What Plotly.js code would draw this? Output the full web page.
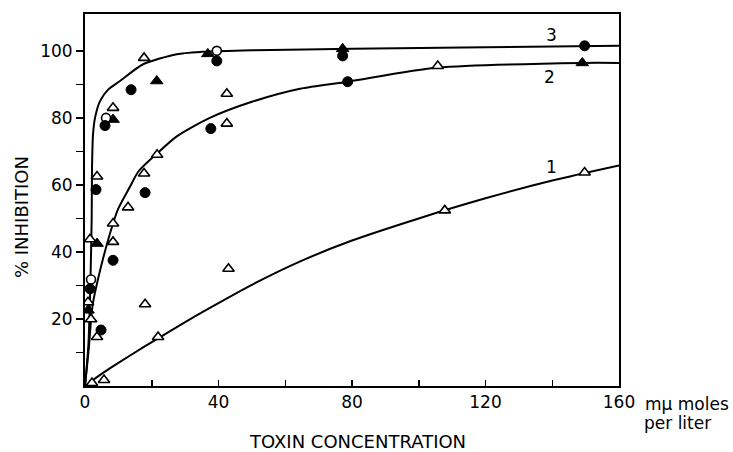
<!DOCTYPE html>
<html><head><meta charset="utf-8">
<script src="https://cdn.plot.ly/plotly-3.0.1.min.js"></script>
<style>html,body{margin:0;padding:0;background:#fff}#c{width:733px;height:452px}</style>
</head><body><div id="c"></div>
<script>
// Curves
const curve1X = [2, 5.4, 10, 17.4, 27.5, 37.4, 50, 65, 80, 100, 120, 140, 160];
const curve1Y = [1.5, 3.9, 6.9, 11.5, 17.6, 23.3, 30.2, 37.4, 43.4, 50, 56, 61.3, 65.8];
const curve2X = [0, 1.2, 2.0, 2.6, 3.6, 5.4, 8.4, 10, 13.5, 16, 21.5, 27.5, 37.4, 50, 64.4, 78.7, 105.7, 149, 160];
const curve2Y = [0, 12, 22, 26, 30.6, 38, 48.5, 53, 59.5, 64, 69.3, 74.5, 80, 84.8, 88.7, 90.8, 95, 96.4, 96.4];
const curve3X = [0, 1.0, 1.6, 2.0, 2.1, 2.4, 3.0, 4.5, 7, 10.5, 17.4, 27.5, 35, 50, 80, 120, 160];
const curve3Y = [0, 12, 30, 50, 65, 75, 80, 85, 88.5, 91, 96, 99, 99.7, 100.2, 100.6, 101.1, 101.5];

// Data points
const openTriX = [17.7, 8.4, 42.5, 42.5, 21.6, 17.7, 3.6, 12.9, 8.4, 8.4, 1.5, 0.9, 1.8, 3.6, 43, 18, 21.9, 2.1, 5.7, 105.7, 149.7, 107.8];
const openTriY = [97.9, 83, 87.2, 78.3, 69, 63.4, 62.5, 53.3, 48.5, 43, 43.8, 25, 19.9, 14.6, 35, 24.4, 14.6, 0.9, 1.8, 95.5, 63.7, 52.4];
const fillTriX = [36.8, 21.5, 8.4, 3.6, 0.9, 77.2, 149];
const fillTriY = [99.1, 91, 79.5, 42.5, 22.6, 100.6, 96.4];
const openCircX = [39.5, 6.3, 1.8];
const openCircY = [100, 80, 31.8];
const fillCircX = [39.5, 13.8, 6, 37.7, 18, 3.3, 8.4, 1.5, 4.8, 77.2, 78.7, 149.7];
const fillCircY = [97, 88.4, 77.7, 76.8, 57.7, 58.6, 37.5, 29, 16.7, 98.5, 90.8, 101.5];

const xTickVals = [0, 20, 40, 60, 80, 100, 120, 140, 160];
const xTickText = ['0', '', '40', '', '80', '', '120', '', '160'];
const yTickVals = [10, 20, 30, 40, 50, 60, 70, 80, 90, 100];
const yTickText = ['', '20', '', '40', '', '60', '', '80', '', '100'];

const FONT = 'DejaVu Sans, Liberation Sans, sans-serif';
const lineStyle = {color: '#000', width: 2, shape: 'spline', smoothing: 0.7};

const traces = [
  {x: curve1X, y: curve1Y, mode: 'lines', line: lineStyle, hoverinfo: 'skip'},
  {x: curve2X, y: curve2Y, mode: 'lines', line: lineStyle, hoverinfo: 'skip'},
  {x: curve3X, y: curve3Y, mode: 'lines', line: lineStyle, hoverinfo: 'skip'},
  {x: openTriX, y: openTriY, mode: 'markers', marker: {symbol: 'triangle-up', size: 10, color: '#fff', line: {color: '#000', width: 1.6}}},
  {x: fillTriX, y: fillTriY, mode: 'markers', marker: {symbol: 'triangle-up', size: 11, color: '#000', line: {color: '#000', width: 1}}},
  {x: openCircX, y: openCircY, mode: 'markers', marker: {symbol: 'circle', size: 9, color: '#fff', line: {color: '#000', width: 1.6}}},
  {x: fillCircX, y: fillCircY, mode: 'markers', marker: {symbol: 'circle', size: 10, color: '#000', line: {color: '#000', width: 1}}}
];

const layout = {
  width: 733, height: 452,
  margin: {l: 85, r: 114, t: 14, b: 66},
  paper_bgcolor: '#fff', plot_bgcolor: '#fff',
  showlegend: false,
  font: {family: FONT, size: 17, color: '#000'},
  xaxis: {
    range: [0, 160], tickmode: 'array', tickvals: xTickVals, ticktext: xTickText,
    ticks: 'inside', ticklen: 6, tickwidth: 1.5, tickcolor: '#000',
    showline: true, linecolor: '#000', linewidth: 2, mirror: true,
    showgrid: false, zeroline: false, tickfont: {size: 17, family: FONT}
  },
  yaxis: {
    range: [0, 111], tickmode: 'array', tickvals: yTickVals, ticktext: yTickText,
    ticks: 'outside', ticklen: 7, tickwidth: 1.5, tickcolor: '#000',
    showline: true, linecolor: '#000', linewidth: 2, mirror: true,
    showgrid: false, zeroline: false, tickfont: {size: 17, family: FONT}
  },
  annotations: [
    {text: 'TOXIN CONCENTRATION', xref: 'paper', yref: 'paper', x: 0.511, y: -0.15, showarrow: false, font: {size: 18}, xanchor: 'center', yanchor: 'middle'},
    {text: '% INHIBITION', xref: 'paper', yref: 'paper', x: -0.12, y: 0.454, showarrow: false, textangle: -90, font: {size: 18}, xanchor: 'center', yanchor: 'middle'},
    {text: 'mμ moles', xref: 'paper', yref: 'paper', x: 1.045, y: -0.048, showarrow: false, font: {size: 17}, xanchor: 'left', yanchor: 'middle'},
    {text: 'per liter', xref: 'paper', yref: 'paper', x: 1.109, y: -0.1, showarrow: false, font: {size: 17}, xanchor: 'center', yanchor: 'middle'},
    {text: '3', x: 139.9, y: 104.7, showarrow: false, font: {size: 17}},
    {text: '2', x: 139.3, y: 92.2, showarrow: false, font: {size: 17}},
    {text: '1', x: 139.9, y: 65.4, showarrow: false, font: {size: 17}}
  ]
};

Plotly.newPlot('c', traces, layout, {staticPlot: true, displayModeBar: false});
</script></body></html>
